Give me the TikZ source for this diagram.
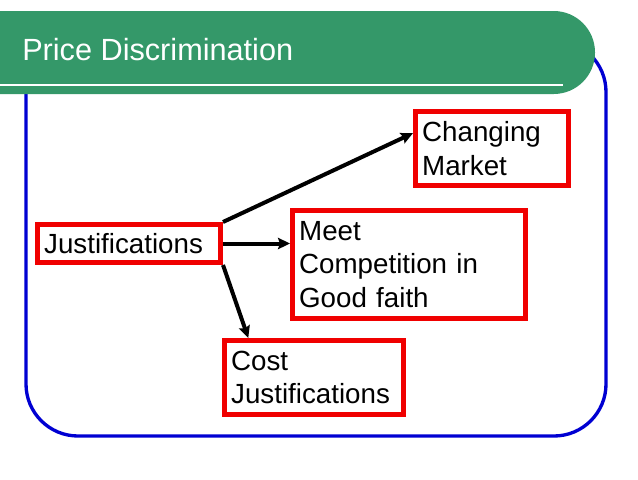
\documentclass[tikz,border=0pt]{standalone}
\usepackage{fontspec}
\setmainfont{Liberation Sans}
\usepackage{tikz}
\usetikzlibrary{arrows.meta}

\definecolor{titlegreen}{RGB}{52,152,105}
\definecolor{boxred}{RGB}{240,0,0}
\definecolor{frameblue}{RGB}{0,0,210}

\begin{document}
\begin{tikzpicture}[x=0.75pt, y=-0.75pt,
    box/.style={draw=boxred, line width=3.75pt, inner xsep=5pt, inner ysep=0pt,
      align=left, font=\fontsize{20.8}{25}\selectfont},
    link/.style={->, line width=3pt},
    >={Stealth[length=9pt, width=8.5pt, inset=1.5pt]}]
            \useasboundingbox (0,0) rectangle (638,479);

            % Frame
            \draw[frameblue, line width=2.5pt, rounded corners=39pt] (26,40) rectangle (606,436);

            % Title bar
            \fill[titlegreen, rounded corners=31pt] (-60,11) rectangle (595,94);
            \draw[white, line width=1.5pt] (0,85) -- (563,85);
            \node[white, anchor=base west, inner sep=0pt, font=\fontsize{23}{27}\selectfont]
              (title) at (22,60) {Price Discrimination};

            % Boxes
            \node[box, text width=127.25pt, minimum height=28.5pt] (just) at (129,243.5) {Justifications};
            \node[box, text width=104.75pt, minimum height=55.5pt] (chg) at (492,148.5) {Changing\\Market};
            \node[box, text width=164.75pt, minimum height=81pt] (meet) at (409,264.5) {Meet\\Competition in\\Good faith};
            \node[box, text width=124.25pt, minimum height=55.5pt] (cost) at (314,377.5) {Cost\\Justifications};

            % Arrows
            \draw[link] (just.north east) -- (chg.169);
            \draw[link] (just.east) -- (just.east -| meet.west);
            \draw[link] (just.south east) -- (cost.149);

        \end{tikzpicture}
\end{document}
